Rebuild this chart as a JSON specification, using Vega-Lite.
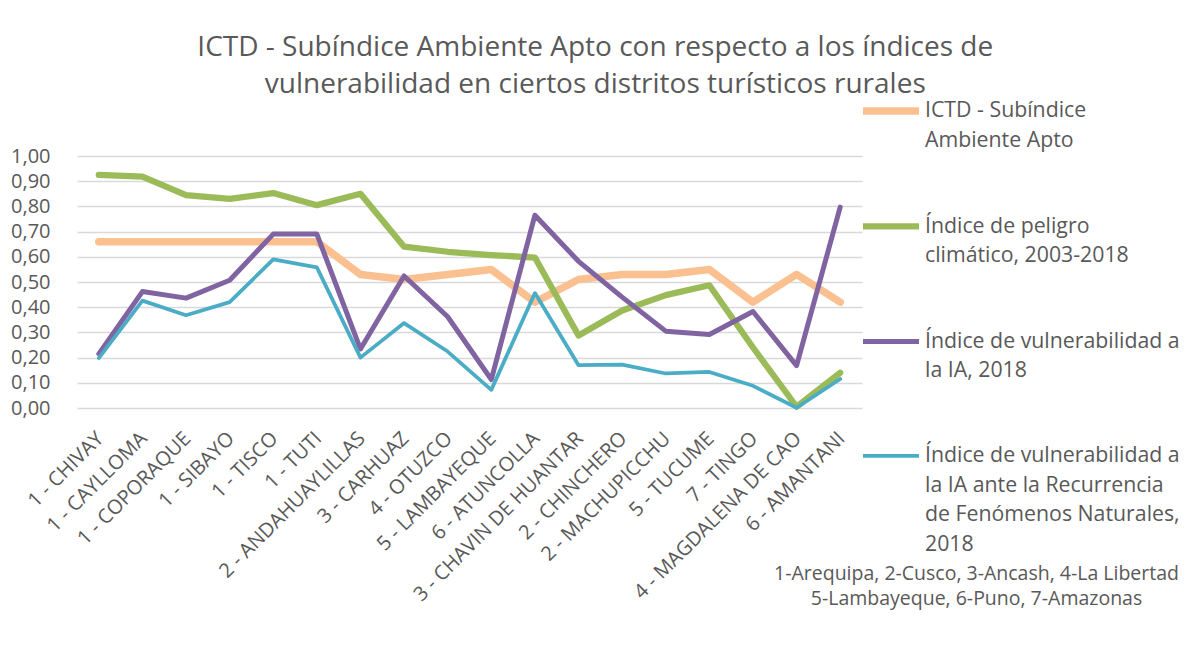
{
  "$schema": "https://vega.github.io/schema/vega-lite/v6.json",
  "width": 785,
  "height": 252,
  "autosize": {"type": "none"},
  "padding": {"left": 77, "top": 156, "right": 324, "bottom": 254},
  "background": "white",
  "config": {
    "locale": {"number": {"decimal": ",", "thousands": ".", "grouping": [3], "currency": ["", " €"]}},
    "font": "Open Sans",
    "view": {"stroke": null},
    "style": {"guide-label": {"lineHeight": 29.5}}
  },
  "title": {
    "text": ["ICTD - Subíndice Ambiente Apto con respecto a los índices de", "vulnerabilidad en ciertos distritos turísticos rurales"],
    "anchor": "middle",
    "frame": "bounds",
    "fontSize": 28,
    "fontWeight": "normal",
    "color": "#595959",
    "lineHeight": 37,
    "offset": -31
  },
  "data": {
    "values": [
      {"distrito": "1 - CHIVAY", "serie": "ICTD - Subíndice Ambiente Apto", "valor": 0.66},
      {"distrito": "1 - CHIVAY", "serie": "Índice de peligro climático, 2003-2018", "valor": 0.925},
      {"distrito": "1 - CHIVAY", "serie": "Índice de vulnerabilidad a la IA, 2018", "valor": 0.215},
      {"distrito": "1 - CHIVAY", "serie": "Índice de vulnerabilidad a la IA ante la Recurrencia de Fenómenos Naturales, 2018", "valor": 0.198},
      {"distrito": "1 - CAYLLOMA", "serie": "ICTD - Subíndice Ambiente Apto", "valor": 0.66},
      {"distrito": "1 - CAYLLOMA", "serie": "Índice de peligro climático, 2003-2018", "valor": 0.918},
      {"distrito": "1 - CAYLLOMA", "serie": "Índice de vulnerabilidad a la IA, 2018", "valor": 0.462},
      {"distrito": "1 - CAYLLOMA", "serie": "Índice de vulnerabilidad a la IA ante la Recurrencia de Fenómenos Naturales, 2018", "valor": 0.426},
      {"distrito": "1 - COPORAQUE", "serie": "ICTD - Subíndice Ambiente Apto", "valor": 0.66},
      {"distrito": "1 - COPORAQUE", "serie": "Índice de peligro climático, 2003-2018", "valor": 0.845},
      {"distrito": "1 - COPORAQUE", "serie": "Índice de vulnerabilidad a la IA, 2018", "valor": 0.436},
      {"distrito": "1 - COPORAQUE", "serie": "Índice de vulnerabilidad a la IA ante la Recurrencia de Fenómenos Naturales, 2018", "valor": 0.368},
      {"distrito": "1 - SIBAYO", "serie": "ICTD - Subíndice Ambiente Apto", "valor": 0.66},
      {"distrito": "1 - SIBAYO", "serie": "Índice de peligro climático, 2003-2018", "valor": 0.83},
      {"distrito": "1 - SIBAYO", "serie": "Índice de vulnerabilidad a la IA, 2018", "valor": 0.507},
      {"distrito": "1 - SIBAYO", "serie": "Índice de vulnerabilidad a la IA ante la Recurrencia de Fenómenos Naturales, 2018", "valor": 0.42},
      {"distrito": "1 - TISCO", "serie": "ICTD - Subíndice Ambiente Apto", "valor": 0.66},
      {"distrito": "1 - TISCO", "serie": "Índice de peligro climático, 2003-2018", "valor": 0.853},
      {"distrito": "1 - TISCO", "serie": "Índice de vulnerabilidad a la IA, 2018", "valor": 0.69},
      {"distrito": "1 - TISCO", "serie": "Índice de vulnerabilidad a la IA ante la Recurrencia de Fenómenos Naturales, 2018", "valor": 0.59},
      {"distrito": "1 - TUTI", "serie": "ICTD - Subíndice Ambiente Apto", "valor": 0.66},
      {"distrito": "1 - TUTI", "serie": "Índice de peligro climático, 2003-2018", "valor": 0.805},
      {"distrito": "1 - TUTI", "serie": "Índice de vulnerabilidad a la IA, 2018", "valor": 0.69},
      {"distrito": "1 - TUTI", "serie": "Índice de vulnerabilidad a la IA ante la Recurrencia de Fenómenos Naturales, 2018", "valor": 0.558},
      {"distrito": "2 - ANDAHUAYLILLAS", "serie": "ICTD - Subíndice Ambiente Apto", "valor": 0.53},
      {"distrito": "2 - ANDAHUAYLILLAS", "serie": "Índice de peligro climático, 2003-2018", "valor": 0.85},
      {"distrito": "2 - ANDAHUAYLILLAS", "serie": "Índice de vulnerabilidad a la IA, 2018", "valor": 0.234},
      {"distrito": "2 - ANDAHUAYLILLAS", "serie": "Índice de vulnerabilidad a la IA ante la Recurrencia de Fenómenos Naturales, 2018", "valor": 0.2},
      {"distrito": "3 - CARHUAZ", "serie": "ICTD - Subíndice Ambiente Apto", "valor": 0.51},
      {"distrito": "3 - CARHUAZ", "serie": "Índice de peligro climático, 2003-2018", "valor": 0.64},
      {"distrito": "3 - CARHUAZ", "serie": "Índice de vulnerabilidad a la IA, 2018", "valor": 0.524},
      {"distrito": "3 - CARHUAZ", "serie": "Índice de vulnerabilidad a la IA ante la Recurrencia de Fenómenos Naturales, 2018", "valor": 0.337},
      {"distrito": "4 - OTUZCO", "serie": "ICTD - Subíndice Ambiente Apto", "valor": 0.53},
      {"distrito": "4 - OTUZCO", "serie": "Índice de peligro climático, 2003-2018", "valor": 0.62},
      {"distrito": "4 - OTUZCO", "serie": "Índice de vulnerabilidad a la IA, 2018", "valor": 0.362},
      {"distrito": "4 - OTUZCO", "serie": "Índice de vulnerabilidad a la IA ante la Recurrencia de Fenómenos Naturales, 2018", "valor": 0.224},
      {"distrito": "5 - LAMBAYEQUE", "serie": "ICTD - Subíndice Ambiente Apto", "valor": 0.55},
      {"distrito": "5 - LAMBAYEQUE", "serie": "Índice de peligro climático, 2003-2018", "valor": 0.607},
      {"distrito": "5 - LAMBAYEQUE", "serie": "Índice de vulnerabilidad a la IA, 2018", "valor": 0.113},
      {"distrito": "5 - LAMBAYEQUE", "serie": "Índice de vulnerabilidad a la IA ante la Recurrencia de Fenómenos Naturales, 2018", "valor": 0.072},
      {"distrito": "6 - ATUNCOLLA", "serie": "ICTD - Subíndice Ambiente Apto", "valor": 0.42},
      {"distrito": "6 - ATUNCOLLA", "serie": "Índice de peligro climático, 2003-2018", "valor": 0.597},
      {"distrito": "6 - ATUNCOLLA", "serie": "Índice de vulnerabilidad a la IA, 2018", "valor": 0.765},
      {"distrito": "6 - ATUNCOLLA", "serie": "Índice de vulnerabilidad a la IA ante la Recurrencia de Fenómenos Naturales, 2018", "valor": 0.456},
      {"distrito": "3 - CHAVIN DE HUANTAR", "serie": "ICTD - Subíndice Ambiente Apto", "valor": 0.51},
      {"distrito": "3 - CHAVIN DE HUANTAR", "serie": "Índice de peligro climático, 2003-2018", "valor": 0.288},
      {"distrito": "3 - CHAVIN DE HUANTAR", "serie": "Índice de vulnerabilidad a la IA, 2018", "valor": 0.582},
      {"distrito": "3 - CHAVIN DE HUANTAR", "serie": "Índice de vulnerabilidad a la IA ante la Recurrencia de Fenómenos Naturales, 2018", "valor": 0.17},
      {"distrito": "2 - CHINCHERO", "serie": "ICTD - Subíndice Ambiente Apto", "valor": 0.53},
      {"distrito": "2 - CHINCHERO", "serie": "Índice de peligro climático, 2003-2018", "valor": 0.387},
      {"distrito": "2 - CHINCHERO", "serie": "Índice de vulnerabilidad a la IA, 2018", "valor": 0.44},
      {"distrito": "2 - CHINCHERO", "serie": "Índice de vulnerabilidad a la IA ante la Recurrencia de Fenómenos Naturales, 2018", "valor": 0.172},
      {"distrito": "2 - MACHUPICCHU", "serie": "ICTD - Subíndice Ambiente Apto", "valor": 0.53},
      {"distrito": "2 - MACHUPICCHU", "serie": "Índice de peligro climático, 2003-2018", "valor": 0.448},
      {"distrito": "2 - MACHUPICCHU", "serie": "Índice de vulnerabilidad a la IA, 2018", "valor": 0.305},
      {"distrito": "2 - MACHUPICCHU", "serie": "Índice de vulnerabilidad a la IA ante la Recurrencia de Fenómenos Naturales, 2018", "valor": 0.137},
      {"distrito": "5 - TUCUME", "serie": "ICTD - Subíndice Ambiente Apto", "valor": 0.55},
      {"distrito": "5 - TUCUME", "serie": "Índice de peligro climático, 2003-2018", "valor": 0.487},
      {"distrito": "5 - TUCUME", "serie": "Índice de vulnerabilidad a la IA, 2018", "valor": 0.292},
      {"distrito": "5 - TUCUME", "serie": "Índice de vulnerabilidad a la IA ante la Recurrencia de Fenómenos Naturales, 2018", "valor": 0.143},
      {"distrito": "7 - TINGO", "serie": "ICTD - Subíndice Ambiente Apto", "valor": 0.42},
      {"distrito": "7 - TINGO", "serie": "Índice de peligro climático, 2003-2018", "valor": 0.24},
      {"distrito": "7 - TINGO", "serie": "Índice de vulnerabilidad a la IA, 2018", "valor": 0.383},
      {"distrito": "7 - TINGO", "serie": "Índice de vulnerabilidad a la IA ante la Recurrencia de Fenómenos Naturales, 2018", "valor": 0.088},
      {"distrito": "4 - MAGDALENA DE CAO", "serie": "ICTD - Subíndice Ambiente Apto", "valor": 0.53},
      {"distrito": "4 - MAGDALENA DE CAO", "serie": "Índice de peligro climático, 2003-2018", "valor": 0.005},
      {"distrito": "4 - MAGDALENA DE CAO", "serie": "Índice de vulnerabilidad a la IA, 2018", "valor": 0.168},
      {"distrito": "4 - MAGDALENA DE CAO", "serie": "Índice de vulnerabilidad a la IA ante la Recurrencia de Fenómenos Naturales, 2018", "valor": 0.001},
      {"distrito": "6 - AMANTANI", "serie": "ICTD - Subíndice Ambiente Apto", "valor": 0.42},
      {"distrito": "6 - AMANTANI", "serie": "Índice de peligro climático, 2003-2018", "valor": 0.14},
      {"distrito": "6 - AMANTANI", "serie": "Índice de vulnerabilidad a la IA, 2018", "valor": 0.797},
      {"distrito": "6 - AMANTANI", "serie": "Índice de vulnerabilidad a la IA ante la Recurrencia de Fenómenos Naturales, 2018", "valor": 0.115}
    ]
  },
  "mark": {"type": "line", "strokeJoin": "round", "strokeCap": "round"},
  "encoding": {
    "x": {
      "field": "distrito",
      "type": "nominal",
      "sort": null,
      "scale": {"type": "point", "padding": 0.5},
      "axis": {
        "title": ["1-Arequipa, 2-Cusco, 3-Ancash, 4-La Libertad", "5-Lambayeque, 6-Puno, 7-Amazonas"],
        "titleX": 899,
        "titleY": 165,
        "titleAlign": "center",
        "titleBaseline": "middle",
        "titleFontSize": 19.5,
        "titleFontWeight": "normal",
        "titleColor": "#595959",
        "titleLineHeight": 25,
        "labelAngle": -45,
        "labelFontSize": 20,
        "labelColor": "#595959",
        "labelPadding": 20,
        "labelOffset": -6,
        "labelLimit": 400,
        "domain": false,
        "ticks": false,
        "grid": false
      }
    },
    "y": {
      "field": "valor",
      "type": "quantitative",
      "scale": {"domain": [0, 1]},
      "axis": {
        "title": null,
        "values": [0, 0.1, 0.2, 0.3, 0.4, 0.5, 0.6, 0.7, 0.8, 0.9, 1],
        "format": ".2f",
        "labelFontSize": 20,
        "labelColor": "#595959",
        "labelPadding": 27,
        "domain": false,
        "ticks": false,
        "gridColor": "#D9D9D9",
        "gridWidth": 1.5
      }
    },
    "color": {
      "field": "serie",
      "type": "nominal",
      "scale": {
        "domain": ["ICTD - Subíndice Ambiente Apto", "Índice de peligro climático, 2003-2018", "Índice de vulnerabilidad a la IA, 2018", "Índice de vulnerabilidad a la IA ante la Recurrencia de Fenómenos Naturales, 2018"],
        "range": ["#FAC090", "#9BBB59", "#8064A2", "#4BACC6"]
      },
      "legend": {
        "title": null,
        "orient": "none",
        "legendX": 782,
        "legendY": -88,
        "symbolType": "M-1,0.39L1,0.39",
        "symbolSize": 3136,
        "labelFontSize": 21.3,
        "labelColor": "#595959",
        "labelLimit": 400,
        "labelOffset": 2,
        "labelBaseline": "top",
        "rowPadding": 33,
        "labelExpr": "datum.label == 'ICTD - Subíndice Ambiente Apto' ? ['ICTD - Subíndice', 'Ambiente Apto'] : datum.label == 'Índice de peligro climático, 2003-2018' ? ['Índice de peligro', 'climático, 2003-2018'] : datum.label == 'Índice de vulnerabilidad a la IA, 2018' ? ['Índice de vulnerabilidad a', 'la IA, 2018'] : ['Índice de vulnerabilidad a', 'la IA ante la Recurrencia', 'de Fenómenos Naturales,', '2018']"
      }
    },
    "strokeWidth": {
      "field": "serie",
      "type": "nominal",
      "scale": {
        "domain": ["ICTD - Subíndice Ambiente Apto", "Índice de peligro climático, 2003-2018", "Índice de vulnerabilidad a la IA, 2018", "Índice de vulnerabilidad a la IA ante la Recurrencia de Fenómenos Naturales, 2018"],
        "range": [7.5, 3.75, 3.75, 3.75]
      },
      "legend": null
    }
  }
}
